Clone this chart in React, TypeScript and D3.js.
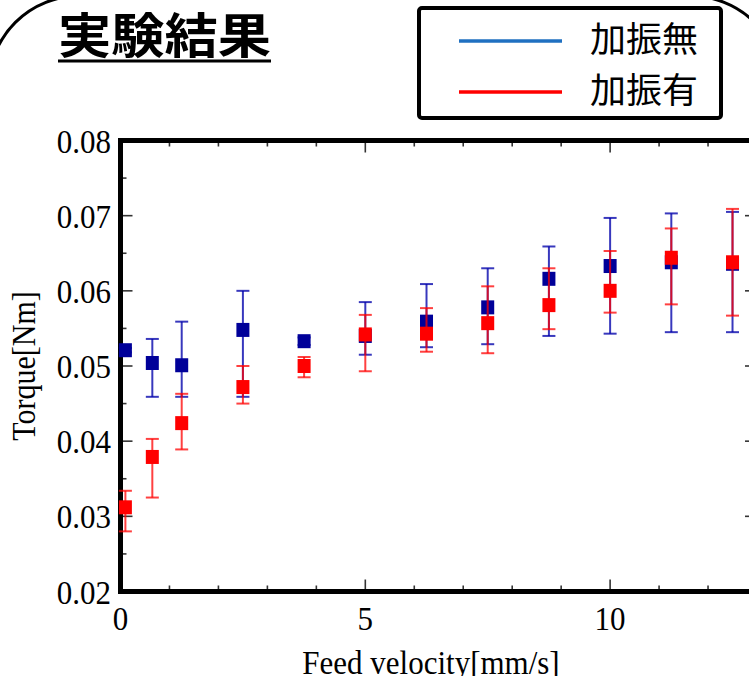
import { useEffect, useRef } from "react";
import * as d3 from "d3";

// feed velocity [mm/s]
const feedVelocity = [0.1, 0.65, 1.25, 2.5, 3.75, 5, 6.25, 7.5, 8.75, 10, 11.25, 12.5];

// 加振無 (no vibration): mean, upper and lower error
const torqueNoVib = [0.0521, 0.0504, 0.0501, 0.0548, 0.0533, 0.054, 0.0559, 0.0578, 0.0616, 0.0633, 0.0638, 0.0636];
const torqueNoVibHigh = [0.0524, 0.0536, 0.0559, 0.06, 0.0538, 0.0585, 0.0609, 0.063, 0.0659, 0.0697, 0.0703, 0.0705];
const torqueNoVibLow = [0.0518, 0.0459, 0.0459, 0.0459, 0.0528, 0.0515, 0.0525, 0.0529, 0.054, 0.0543, 0.0545, 0.0545];

// 加振有 (with vibration)
const torqueVib = [0.0312, 0.0379, 0.0424, 0.0472, 0.05, 0.0542, 0.0543, 0.0557, 0.0581, 0.06, 0.0644, 0.0638];
const torqueVibHigh = [0.0334, 0.0403, 0.0463, 0.05, 0.0512, 0.0568, 0.0577, 0.0606, 0.063, 0.0653, 0.0683, 0.0709];
const torqueVibLow = [0.028, 0.0325, 0.0389, 0.045, 0.0485, 0.0493, 0.0519, 0.0517, 0.0549, 0.0571, 0.0582, 0.0567];

const xTickLabels = ["0", "5", "10"];
const yTickLabels = ["0.02", "0.03", "0.04", "0.05", "0.06", "0.07", "0.08"];
const legendLabels = ["加振無", "加振有"];

function App() {
    const svgRef = useRef<SVGSVGElement | null>(null);

    useEffect(() => {
        if (!svgRef.current) return;

        const width = 749;
        const height = 676;
        const serif = "'Liberation Serif', 'Times New Roman', serif";
        const cjk = "'Noto Sans CJK JP', 'Noto Sans CJK SC', sans-serif";

        const svg = d3.select(svgRef.current).attr("width", width).attr("height", height);
        svg.selectAll("*").remove();

        const x = d3.scaleLinear().domain([0, 13]).range([120.5, 757]);
        const y = d3.scaleLinear().domain([0.02, 0.08]).range([591.5, 140.5]);

        // slide frame (rounded corners)
        svg.append("rect")
            .attr("x", -11).attr("y", -4)
            .attr("width", 792).attr("height", 900)
            .attr("rx", 90)
            .attr("fill", "none").attr("stroke", "#000").attr("stroke-width", 3);

        // title
        svg.append("text")
            .attr("x", 58).attr("y", 53)
            .attr("font-family", cjk).attr("font-weight", 700)
            .attr("font-size", 48)
            .attr("textLength", 213).attr("lengthAdjust", "spacingAndGlyphs")
            .text("実験結果");
        svg.append("line")
            .attr("x1", 58).attr("x2", 271).attr("y1", 61).attr("y2", 61)
            .attr("stroke", "#000").attr("stroke-width", 3);

        // legend
        svg.append("rect")
            .attr("x", 419).attr("y", 8).attr("width", 302).attr("height", 110)
            .attr("rx", 3)
            .attr("fill", "#fff").attr("stroke", "#000").attr("stroke-width", 4);
        const legendColors = ["#1f70c1", "#ff0000"];
        legendLabels.forEach((label, i) => {
            const ly = 41 + i * 51;
            svg.append("line")
                .attr("x1", 459).attr("x2", 562).attr("y1", ly).attr("y2", ly)
                .attr("stroke", legendColors[i]).attr("stroke-width", 3.5);
            svg.append("text")
                .attr("x", 590).attr("y", ly + 11)
                .attr("font-family", cjk).attr("font-size", 35)
                .attr("textLength", 108).attr("lengthAdjust", "spacingAndGlyphs")
                .text(label);
        });

        // ticks (all four sides, inward)
        const ticks = svg.append("g").attr("stroke", "#333").attr("stroke-width", 1.6);
        const xMinor = d3.range(0, 14, 1);
        xMinor.forEach((v) => {
            const len = v % 5 === 0 ? 12 : 6;
            ticks.append("line").attr("x1", x(v)).attr("x2", x(v)).attr("y1", y(0.02)).attr("y2", y(0.02) - len);
            ticks.append("line").attr("x1", x(v)).attr("x2", x(v)).attr("y1", y(0.08)).attr("y2", y(0.08) + len);
        });
        const yMinor = d3.range(0, 13).map((i) => 0.02 + i * 0.005);
        yMinor.forEach((v, i) => {
            const len = i % 2 === 0 ? 12 : 6;
            ticks.append("line").attr("x1", x(0)).attr("x2", x(0) + len).attr("y1", y(v)).attr("y2", y(v));
            ticks.append("line").attr("x1", x(13)).attr("x2", x(13) - len).attr("y1", y(v)).attr("y2", y(v));
        });

        // frame
        svg.append("rect")
            .attr("x", x(0)).attr("y", y(0.08))
            .attr("width", x(13) - x(0)).attr("height", y(0.02) - y(0.08))
            .attr("fill", "none").attr("stroke", "#000").attr("stroke-width", 5);

        // tick labels
        const stretch = 1.12;
        yTickLabels.forEach((t) => {
            svg.append("text")
                .attr("transform", `translate(111,${y(+t) + 12}) scale(1,${stretch})`)
                .attr("text-anchor", "end")
                .attr("font-family", serif).attr("font-size", 31)
                .text(t);
        });
        xTickLabels.forEach((t) => {
            svg.append("text")
                .attr("transform", `translate(${x(+t)},630) scale(1,${stretch})`)
                .attr("text-anchor", "middle")
                .attr("font-family", serif).attr("font-size", 31)
                .text(t);
        });

        // axis titles
        svg.append("text")
            .attr("transform", `translate(431,674) scale(1,${stretch})`)
            .attr("text-anchor", "middle")
            .attr("font-family", serif).attr("font-size", 31)
            .text("Feed velocity[mm/s]");
        svg.append("text")
            .attr("transform", `translate(35,366) rotate(-90) scale(1,${stretch})`)
            .attr("text-anchor", "middle")
            .attr("font-family", serif).attr("font-size", 30)
            .text("Torque[Nm]");

        // series
        const series = [
            { mean: torqueNoVib, hi: torqueNoVibHigh, lo: torqueNoVibLow, bar: "rgba(0,0,170,0.78)", fill: "#000099" },
            { mean: torqueVib, hi: torqueVibHigh, lo: torqueVibLow, bar: "rgba(255,0,0,0.75)", fill: "#ff0000" },
        ];
        const capW = 13;
        const sqW = 13;
        const sqH = 14;
        series.forEach((s) => {
            const g = svg.append("g");
            const pts = feedVelocity.map((v, i) => ({ v, m: s.mean[i], hi: s.hi[i], lo: s.lo[i] }));
            g.selectAll("line.stem").data(pts).join("line")
                .attr("x1", (d) => x(d.v)).attr("x2", (d) => x(d.v))
                .attr("y1", (d) => y(d.hi)).attr("y2", (d) => y(d.lo))
                .attr("stroke", s.bar).attr("stroke-width", 2);
            g.selectAll("line.capHi").data(pts).join("line")
                .attr("x1", (d) => x(d.v) - capW / 2).attr("x2", (d) => x(d.v) + capW / 2)
                .attr("y1", (d) => y(d.hi)).attr("y2", (d) => y(d.hi))
                .attr("stroke", s.bar).attr("stroke-width", 2);
            g.selectAll("line.capLo").data(pts).join("line")
                .attr("x1", (d) => x(d.v) - capW / 2).attr("x2", (d) => x(d.v) + capW / 2)
                .attr("y1", (d) => y(d.lo)).attr("y2", (d) => y(d.lo))
                .attr("stroke", s.bar).attr("stroke-width", 2);
            g.selectAll("rect").data(pts).join("rect")
                .attr("x", (d) => x(d.v) - sqW / 2).attr("y", (d) => y(d.m) - sqH / 2)
                .attr("width", sqW).attr("height", sqH)
                .attr("fill", s.fill);
        });
    }, []);

    return (
        <div>
            <style>{"body{margin:0;overflow:hidden}"}</style>
            <svg ref={svgRef} style={{ display: "block" }}></svg>
        </div>
    );
}

export default App;
